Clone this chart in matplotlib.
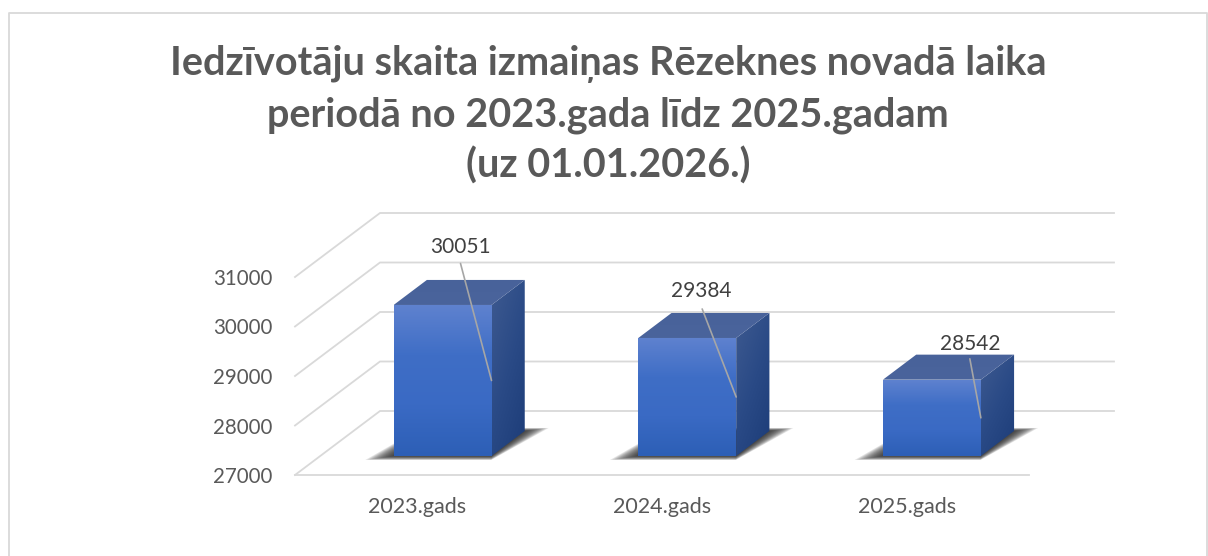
import numpy as np
import matplotlib
matplotlib.use("Agg")
import matplotlib.pyplot as plt
from matplotlib.colors import LinearSegmentedColormap
from matplotlib.lines import Line2D
from matplotlib.patches import Polygon

plt.rcParams['font.family'] = ['Lato', 'DejaVu Sans']

title = ("Iedzīvotāju skaita izmaiņas Rēzeknes novadā laika\n"
         "periodā no 2023.gada līdz 2025.gadam\n(uz 01.01.2026.)")
categories = ["2023.gads", "2024.gads", "2025.gads"]
values = [30051, 29384, 28542]
y_ticks = [27000, 28000, 29000, 30000, 31000]

W, H = 1208, 556
fig = plt.figure(figsize=(W / 100, H / 100), dpi=100, facecolor="white")
L, R, B, T = 295, 1029, 475, 277
ax = fig.add_axes([L / W, (H - B) / H, (R - L) / W, (B - T) / H])
ax.set_xlim(-0.5, 2.5)
ax.set_ylim(y_ticks[0], y_ticks[-1])
ax.patch.set_visible(False)
for s in ax.spines.values():
    s.set_visible(False)

PX = (R - L) / 3
PY = (B - T) / (y_ticks[-1] - y_ticks[0])
DX, DY = 85 / PX, 64 / PY          # full depth of the floor in data units


def proj(x, v, t):
    return x + t * DX, v + t * DY


GRID = "#d9d9d9"
for v in y_ticks:
    p0, p1 = proj(-0.5, v, 0), proj(-0.5, v, 1)
    p2 = proj(2.5, v, 1)
    ax.plot([p0[0], p1[0], p2[0]], [p0[1], p1[1], p2[1]], color=GRID, lw=1.3,
            clip_on=False, zorder=1, solid_joinstyle="miter")
ax.plot([-0.5, 2.5], [y_ticks[0]] * 2, color=GRID, lw=1.3, clip_on=False, zorder=1)

front_cm = LinearSegmentedColormap.from_list("f", ["#5f82cf", "#3f6ec6", "#3a6ac4", "#2d5fb6"])
side_cm = LinearSegmentedColormap.from_list("s", ["#3e5a90", "#2a4a86", "#1c3c78"])
top_cm = LinearSegmentedColormap.from_list("t", ["#48629a", "#4a649c"])

BW = 0.4
T0, T1 = 0.297, 0.688
base = y_ticks[0]


def face(pts, cmap, grad, z):
    xs, ys = zip(*pts)
    im = ax.imshow(grad, extent=[min(xs), max(xs), min(ys), max(ys)], cmap=cmap,
                   vmin=0, vmax=1, aspect="auto", origin="upper",
                   interpolation="bilinear", zorder=z, clip_on=True)
    poly = Polygon(pts, closed=True, transform=ax.transData, fill=False, edgecolor="none")
    ax.add_patch(poly)
    poly.set_clip_on(False)
    im.set_clip_path(poly)


vgrad = np.linspace(0, 1, 128)[:, None]
xx, yy = np.meshgrid(np.linspace(0, 1, 64), np.linspace(0, 1, 64))
dgrad = (xx * 0.4 + yy * 0.6)

for i, v in enumerate(values):
    x0, x1 = i - BW / 2, i + BW / 2
    # soft shadow on the floor
    n = 14
    for k in range(n):
        ex = 1 - k / (n - 1)
        a = proj(x0 - 23 * ex / PX, base, T0 - 4 * ex / 64)
        b = proj(x1 + 5 * ex / PX, base, T0 - 4 * ex / 64)
        c = proj(x1 + 20 * ex / PX, base, T1 + 3 * ex / 64)
        d = proj(x0 - 10 * ex / PX, base, T1 + 3 * ex / 64)
        ax.add_patch(Polygon([a, b, c, d], closed=True, facecolor="#1a1a1a",
                             edgecolor="none", alpha=0.11, clip_on=False, zorder=2))
    # front
    fr = [proj(x0, base, T0), proj(x1, base, T0), proj(x1, v, T0), proj(x0, v, T0)]
    face(fr, front_cm, vgrad, 5)
    # side
    sd = [proj(x1, base, T0), proj(x1, base, T1), proj(x1, v, T1), proj(x1, v, T0)]
    face(sd, side_cm, dgrad, 4)
    # top
    tp = [proj(x0, v, T0), proj(x1, v, T0), proj(x1, v, T1), proj(x0, v, T1)]
    face(tp, top_cm, vgrad, 4)

label_off = [(-31, 133), (-35, 106), (-11, 74)]
line_off = [(-31, 117), (-34, 88), (-11, 59)]
for i, v in enumerate(values):
    ex, ey = proj(i + BW / 2, (v + base) / 2, T0)
    ey = base + (v - base) / 2 + T0 * DY
    ax.annotate("", xy=(ex, ey), xytext=line_off[i], textcoords="offset pixels",
                arrowprops=dict(arrowstyle="-", color="#a6a6a6", lw=1.2,
                                shrinkA=0, shrinkB=0), annotation_clip=False, zorder=7)
    ax.annotate(str(v), xy=(ex, ey), xytext=label_off[i], textcoords="offset pixels",
                ha="center", va="center", fontsize=15, color="#404040",
                annotation_clip=False, zorder=8)

ax.set_xticks(range(3), categories)
ax.set_yticks(y_ticks, [str(t) for t in y_ticks])
ax.tick_params(axis="both", length=0, labelcolor="#595959")
ax.tick_params(axis="x", pad=16, labelsize=15.5)
ax.tick_params(axis="y", pad=16, labelsize=14.8)

fig.text(608 / W, 1 - 115 / H, title, ha="center", va="center", fontsize=28.5,
         fontweight="bold", color="#595959", linespacing=1.42)

# chart frame
fig.add_artist(Line2D([9 / W, 9 / W, 1207 / W, 1207 / W],
                      [0, 1 - 13 / H, 1 - 13 / H, 0], color="#d9d9d9", lw=1.3,
                      transform=fig.transFigure))

fig.savefig("out.png", dpi=100, facecolor="white")
